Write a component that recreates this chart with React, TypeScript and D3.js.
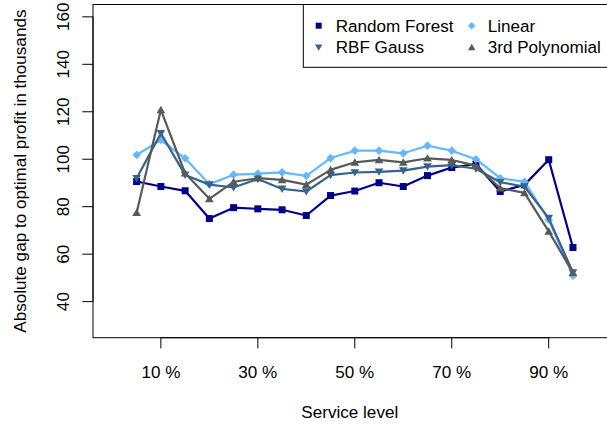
import React from "react";
import * as d3 from "d3";

const levels = [5, 10, 15, 20, 25, 30, 35, 40, 45, 50, 55, 60, 65, 70, 75, 80, 85, 90, 95];
const randomForest = [90.6, 88.5, 86.7, 75.0, 79.6, 79.1, 78.7, 76.3, 84.7, 86.6, 90.1, 88.5, 93.1, 96.5, 98.0, 86.4, 89.2, 99.8, 62.8];
const linear = [101.8, 108.1, 100.4, 89.5, 93.5, 93.9, 94.5, 93.0, 100.5, 103.6, 103.6, 102.5, 105.7, 103.6, 100.0, 92.0, 90.5, 74.5, 50.9];
const rbfGauss = [92.0, 110.9, 93.4, 89.3, 88.1, 91.7, 87.5, 86.4, 93.3, 94.4, 94.7, 95.2, 96.9, 97.5, 96.0, 90.3, 88.5, 75.2, 52.3];
const poly3 = [77.5, 120.8, 94.1, 83.3, 90.5, 92.0, 91.3, 89.3, 95.5, 98.7, 99.7, 98.7, 100.4, 99.7, 97.3, 87.8, 85.8, 69.6, 52.2];
const xTicks = [10, 30, 50, 70, 90];
const xTickLabels = ["10 %", "30 %", "50 %", "70 %", "90 %"];
const yTicks = [40, 60, 80, 100, 120, 140, 160];

const seriesNames = ["Random Forest", "Linear", "RBF Gauss", "3rd Polynomial"];
const seriesColors = ["#00008B", "#63B8FF", "#36648B", "#595959"];
const seriesShapes = ["square", "diamond", "down", "up"];

const FONT = "'Liberation Sans', Arial, Helvetica, sans-serif";
const FS = 17.1;

function marker(shape: string, x: number, y: number, color: string, s: number, key?: string) {
  if (shape === "square") {
    return <rect key={key} x={x - s / 2} y={y - s / 2} width={s} height={s} fill={color} />;
  }
  if (shape === "diamond") {
    const r = s * 0.62;
    return <path key={key} d={`M${x},${y - r}L${x + r},${y}L${x},${y + r}L${x - r},${y}Z`} fill={color} />;
  }
  const h = s * 1.05;
  const w = s * 0.62;
  if (shape === "down") {
    return <path key={key} d={`M${x - w},${y - h * 0.45}L${x + w},${y - h * 0.45}L${x},${y + h * 0.55}Z`} fill={color} />;
  }
  return <path key={key} d={`M${x - w},${y + h * 0.45}L${x + w},${y + h * 0.45}L${x},${y - h * 0.55}Z`} fill={color} />;
}

export default function App() {
  const width = 607;
  const height = 425;
  const left = 93;
  const top = 4.5;
  const bottom = 337.7;
  const x = d3.scaleLinear().domain([-4, 104]).range([left, left + 108 * 4.848]);
  const y = d3.scaleLinear().domain([24.8, 165.2]).range([bottom, top]);
  const right = x(104);

  const allSeries = [randomForest, linear, rbfGauss, poly3];
  const line = d3
    .line<number>()
    .x((_, i) => x(levels[i]))
    .y((d) => y(d));

  return (
    <svg
      width={width}
      height={height}
      style={{ position: "absolute", left: 0, top: 0, background: "#fff" }}
      fontFamily={FONT}
    >
      <rect x={0} y={0} width={width} height={height} fill="#fff" />
      {allSeries.map((s, si) => (
        <g key={si}>
          <path d={line(s) || ""} fill="none" stroke={seriesColors[si]} strokeWidth={2.2} strokeLinejoin="round" />
          {s.map((v, i) => marker(seriesShapes[si], x(levels[i]), y(v), seriesColors[si], 7, `${si}-${i}`))}
        </g>
      ))}

      {/* plot box */}
      <rect x={left} y={top} width={right - left} height={bottom - top} fill="none" stroke="#000" strokeWidth={1} />

      {/* x axis */}
      <line x1={x(xTicks[0])} x2={x(xTicks[xTicks.length - 1])} y1={bottom} y2={bottom} stroke="#000" />
      {xTicks.map((t, i) => (
        <g key={t}>
          <line x1={x(t)} x2={x(t)} y1={bottom} y2={bottom + 10.7} stroke="#000" />
          <text x={x(t)} y={371.7} dy="0.35em" textAnchor="middle" fontSize={FS} fill="#000">
            {xTickLabels[i]}
          </text>
        </g>
      ))}
      <text x={(left + right) / 2 - 5} y={411.7} dy="0.35em" textAnchor="middle" fontSize={FS} fill="#000">
        Service level
      </text>

      {/* y axis */}
      <line x1={left} x2={left} y1={y(yTicks[0])} y2={y(yTicks[yTicks.length - 1])} stroke="#000" />
      {yTicks.map((t) => (
        <g key={t}>
          <line x1={left - 10.7} x2={left} y1={y(t)} y2={y(t)} stroke="#000" />
          <text
            transform={`translate(63,${y(t)}) rotate(-90)`}
            dy="0.35em"
            textAnchor="middle"
            fontSize={FS}
            fill="#000"
          >
            {t}
          </text>
        </g>
      ))}
      <text
        transform={`translate(20,${(top + bottom) / 2}) rotate(-90)`}
        dy="0.35em"
        textAnchor="middle"
        fontSize={FS}
        fill="#000"
      >
        Absolute gap to optimal profit in thousands
      </text>

      {/* legend */}
      <rect x={303.3} y={top} width={right - 303.3} height={67.3 - top} fill="#fff" stroke="#000" strokeWidth={1} />
      {[0, 2].map((si, r) => (
        <g key={`l1-${si}`}>
          {marker(seriesShapes[si], 318.7, r === 0 ? 25.7 : 47.3, seriesColors[si], 6)}
          <text x={335.7} y={r === 0 ? 25.7 : 47.3} dy="0.35em" fontSize={FS} fill="#000">
            {seriesNames[si]}
          </text>
        </g>
      ))}
      {[1, 3].map((si, r) => (
        <g key={`l2-${si}`}>
          {marker(seriesShapes[si], 471.7, r === 0 ? 25.7 : 47.3, seriesColors[si], 6)}
          <text x={487.7} y={r === 0 ? 25.7 : 47.3} dy="0.35em" fontSize={FS} fill="#000">
            {seriesNames[si]}
          </text>
        </g>
      ))}
    </svg>
  );
}
